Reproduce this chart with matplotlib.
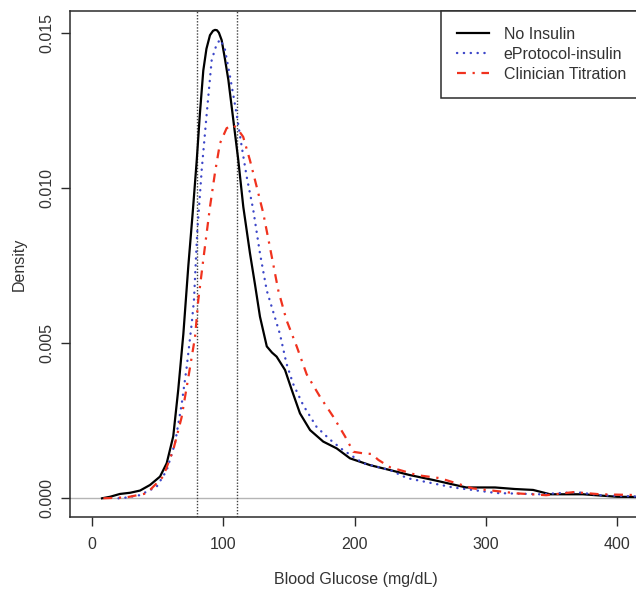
import matplotlib
matplotlib.use("Agg")
import matplotlib.pyplot as plt

plt.rcParams['font.family'] = ['Liberation Sans', 'DejaVu Sans']

# density curves (glucose mg/dL, density)
no_insulin_x = [7.4, 13.6, 21, 29, 36.4, 44, 51.6, 56.7, 61.7, 65.5, 69.4, 73.2, 76.5, 79.6,
                82, 84.6, 87, 89.7, 92, 93.5, 95, 96.5, 98.6, 101, 103.7, 107.5, 111.3, 115.1,
                120.2, 124, 127.8, 133, 137, 140.5, 146.9, 152, 158.3, 166, 176, 186.3, 196.4,
                211.7, 227, 242, 260, 285, 307, 322, 336, 349, 374, 400, 420]
no_insulin_y = [0, 0.00005, 0.00014, 0.00018, 0.00025, 0.00043, 0.0007, 0.00113, 0.002, 0.0035,
                0.0053, 0.0075, 0.0092, 0.0109, 0.0124, 0.0138, 0.0145, 0.01494, 0.01508,
                0.01511, 0.0151, 0.01502, 0.01478, 0.0142, 0.0135, 0.0122, 0.0109, 0.0094,
                0.0079, 0.0069, 0.00586, 0.0049, 0.0047, 0.00457, 0.00414, 0.0035, 0.00274,
                0.0022, 0.00183, 0.00161, 0.00129, 0.00107, 0.00091, 0.00075, 0.00059,
                0.00035, 0.00035, 0.0003, 0.00027, 0.00013, 0.00013, 0.00005, 0.00004]

eprotocol_x = [20, 23.6, 36, 49, 56.7, 63, 68, 72, 75.8, 77.5, 80, 83.4, 87.2, 91, 94.8, 97.5,
               101, 105, 110, 113.9, 117.7, 122.7, 127.8, 133, 138, 143, 148, 153, 160.8, 171,
               181, 191, 206.6, 227, 240, 247, 275, 308, 341, 369, 387, 420]
eprotocol_y = [0, 0.00001, 0.0001, 0.00037, 0.0009, 0.00177, 0.003, 0.00425, 0.00565, 0.0064,
               0.0086, 0.0106, 0.0124, 0.01414, 0.01465, 0.0148, 0.0145, 0.0136, 0.0124,
               0.01134, 0.01037, 0.0093, 0.0079, 0.0067, 0.006, 0.0053, 0.00435, 0.0037,
               0.003, 0.0023, 0.0019, 0.00156, 0.00113, 0.00091, 0.00065, 0.00059, 0.00035,
               0.00017, 0.00013, 0.0002, 0.0001, 0.00005]

clinician_x = [8.4, 26, 41.5, 54, 61.7, 68, 73.2, 78.3, 80.8, 84.6, 89.7, 93.5, 97.3, 102.4,
               107.5, 111, 115, 120.2, 125.3, 130.3, 135.4, 141.8, 148, 155.8, 163.4, 173.5,
               183.7, 192.6, 199, 206.6, 213, 218, 227, 242, 247, 265, 290, 323.5, 346, 367,
               387, 420]
clinician_y = [0, 0.00003, 0.00016, 0.0007, 0.00156, 0.0026, 0.0039, 0.0052, 0.0064, 0.0077,
               0.0094, 0.0105, 0.01145, 0.01194, 0.01204, 0.0119, 0.01166, 0.0109, 0.01005,
               0.0092, 0.0081, 0.0067, 0.00575, 0.0049, 0.004, 0.00328, 0.00263, 0.002,
               0.0015, 0.00145, 0.00143, 0.00124, 0.001, 0.00082, 0.00075, 0.00065, 0.00032,
               0.00016, 0.0001, 0.0002, 0.00013, 0.0001]

target_range = [80, 110]
x_ticks = [0, 100, 200, 300, 400]
y_ticks = [0.0, 0.005, 0.010, 0.015]
y_tick_labels = ["0.000", "0.005", "0.010", "0.015"]
labels = ["No Insulin", "eProtocol-insulin", "Clinician Titration"]

fig = plt.figure(figsize=(6.36, 5.89), dpi=100)
ax = fig.add_axes([70 / 636, 72 / 589, 572 / 636, 506 / 589])

edge = "#2b2b2b"
fs = 11.5

ax.axhline(0, color="#b5b5b5", lw=1, zorder=1)
for v in target_range:
    ax.axvline(v, color="#404040", lw=1, linestyle=(0, (1, 1.2)), zorder=1)

ax.plot(no_insulin_x, no_insulin_y, color="black", lw=1.6, label=labels[0], zorder=3)
ax.plot(eprotocol_x, eprotocol_y, color="#3c46c8", lw=1.7, linestyle=(0, (0.1, 2.8)),
        dash_capstyle="round", label=labels[1], zorder=3)
ax.plot(clinician_x, clinician_y, color="#f0321e", lw=1.6, linestyle=(0, (4, 3, 1, 3)),
        label=labels[2], zorder=3)

ax.set_xlim(-17, 419)
ax.set_ylim(-0.000603, 0.01572)
ax.set_xticks(x_ticks)
ax.set_yticks(y_ticks)
ax.set_yticklabels(y_tick_labels, rotation=90, va="center")
ax.tick_params(axis="both", direction="out", length=6.5, width=1, colors=edge,
               labelsize=fs, labelcolor="#333333")
ax.tick_params(axis="x", pad=8)
ax.tick_params(axis="y", pad=5)
for s in ax.spines.values():
    s.set_color(edge)
    s.set_linewidth(1.1)

ax.set_xlabel("Blood Glucose (mg/dL)", fontsize=fs, color="#333333", labelpad=14)
ax.set_ylabel("Density", fontsize=fs, color="#333333", labelpad=9)

leg = ax.legend(loc="upper right", borderaxespad=0, fancybox=False, fontsize=fs,
                handlelength=2.0, handletextpad=0.9, labelspacing=0.3, borderpad=1.0,
                framealpha=1)
leg.get_frame().set_edgecolor(edge)
leg.get_frame().set_linewidth(1.1)
for t in leg.get_texts():
    t.set_color("#333333")

fig.savefig("out.png", dpi=100)
